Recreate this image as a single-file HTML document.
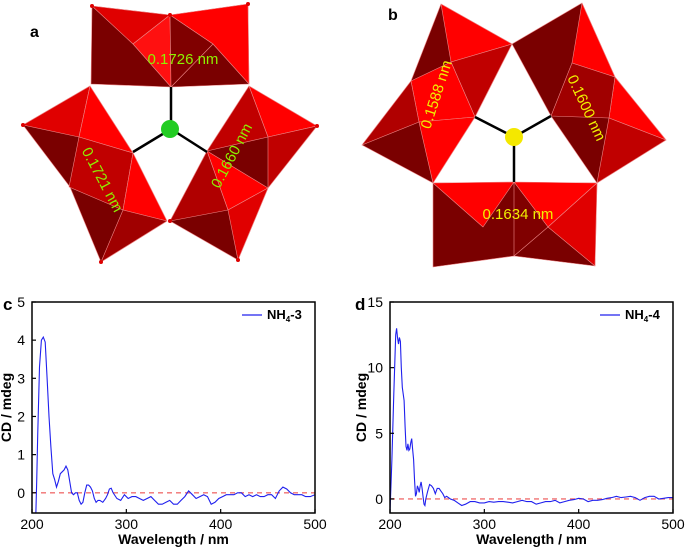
<!DOCTYPE html>
<html><head><meta charset="utf-8">
<style>
body{margin:0;background:#fff;}
svg{display:block;font-family:"Liberation Sans",Arial,sans-serif;}
</style></head>
<body>
<svg id="root" width="685" height="549" viewBox="0 0 685 549">
<g id="structA" stroke="#e88" stroke-width="0.6" stroke-linejoin="round">
  <polygon points="92,6 170,15 248,4 249,84 171,87 91,84" fill="#7a0000"/>
  <polygon points="92,6 170,15 133,44" fill="#e00000"/>
  <polygon points="170,15 248,4 249,84 213,44" fill="#ff0000"/>
  <polygon points="133,44 170,15 171,87" fill="#ff1010"/>
  <polygon points="170,15 213,44 171,87" fill="#800000"/>
  <polygon points="23,125 90,86 133,153 167,221 101,262 70,187" fill="#7a0000"/>
  <polygon points="23,125 90,86 79,137" fill="#e00000"/>
  <polygon points="90,86 133,153 79,137" fill="#ff0000"/>
  <polygon points="79,137 133,153 123,210 69,187" fill="#c00000"/>
  <polygon points="133,153 167,221 123,210" fill="#ff0000"/>
  <polygon points="123,210 167,221 101,262" fill="#a00000"/>
  <polygon points="249,86 317,126 268,188 238,260 170,221 207,151" fill="#7a0000"/>
  <polygon points="249,86 317,126 268,137" fill="#ff0000"/>
  <polygon points="249,86 268,137 207,151" fill="#c00000"/>
  <polygon points="268,137 317,126 268,188" fill="#c00000"/>
  <polygon points="207,151 268,188 228,210" fill="#ff0000"/>
  <polygon points="228,210 268,188 238,260" fill="#e00000"/>
  <polygon points="170,221 207,151 228,210" fill="#b00000"/>
</g>
<g stroke="#000" stroke-width="2.5">
  <line x1="171" y1="129" x2="171" y2="87"/><line x1="171" y1="129" x2="133" y2="152"/><line x1="171" y1="129" x2="207" y2="152"/>
</g>
<circle cx="170" cy="129" r="9" fill="#22cc22"/>
<g fill="#d00">
  <circle cx="92" cy="6" r="2"/><circle cx="248" cy="4" r="2"/><circle cx="170" cy="15" r="2"/><circle cx="23" cy="125" r="2"/><circle cx="317" cy="126" r="2"/><circle cx="101" cy="262" r="2"/><circle cx="238" cy="260" r="2"/><circle cx="170" cy="221" r="2"/>
</g>
<text x="30" y="37" font-size="16" font-weight="bold">a</text>
<g font-size="15" fill="#8ef000">
  <text x="183" y="64" text-anchor="middle">0.1726 nm</text>
  <text transform="translate(98,182) rotate(62)" text-anchor="middle">0.1721 nm</text>
  <text transform="translate(236,158) rotate(-62)" text-anchor="middle">0.1660 nm</text>
</g>

<g stroke="#e88" stroke-width="0.6" stroke-linejoin="round">
  <polygon points="441,4 512,44 475,117 433,183 362,145 411,81" fill="#7a0000"/>
  <polygon points="441,4 512,44 451,62" fill="#ff0000"/>
  <polygon points="451,62 512,44 475,117" fill="#c00000"/>
  <polygon points="411,81 451,62 475,117 419,122" fill="#ff0000"/>
  <polygon points="362,145 411,81 419,122" fill="#b00000"/>
  <polygon points="419,122 475,117 433,183" fill="#ff0000"/>
  <polygon points="582,3 512,44 551,116 597,183 666,140 615,77" fill="#7a0000"/>
  <polygon points="582,3 615,77 572,63" fill="#ff0000"/>
  <polygon points="615,77 666,140 609,118" fill="#ff0000"/>
  <polygon points="572,63 615,77 609,118 551,116" fill="#a00000"/>
  <polygon points="609,118 666,140 597,183" fill="#c00000"/>
  <polygon points="433,183 597,183 595,266 514,256 433,267" fill="#7a0000"/>
  <polygon points="433,183 514,182 483,227" fill="#ff0000"/>
  <polygon points="514,182 597,183 548,227" fill="#ff0000"/>
  <polygon points="514,182 548,227 514,256" fill="#800000"/>
  <polygon points="597,183 595,266 548,227" fill="#e00000"/>
</g>
<g stroke="#000" stroke-width="2.5">
  <line x1="514" y1="137" x2="475" y2="117"/><line x1="514" y1="137" x2="551" y2="116"/><line x1="514" y1="137" x2="514" y2="182"/>
</g>
<circle cx="514" cy="137" r="9" fill="#f4e800"/>
<text x="388" y="20" font-size="16" font-weight="bold">b</text>
<g font-size="15" fill="#f0f000">
  <text transform="translate(441,96) rotate(-72)" text-anchor="middle">0.1588 nm</text>
  <text transform="translate(582,110) rotate(65)" text-anchor="middle">0.1600 nm</text>
  <text x="518" y="219" text-anchor="middle">0.1634 nm</text>
</g>
<g id="charts"></g>
</svg>
<script>
// Chart c data
const cWave = [200,202,204,205,206,208,210,212,214,216,218,220,222,224,226,228,230,232,234,236,238,240,242,244,246,248,250,252,254,256,258,260,262,264,266,268,270,272,275,278,280,282,284,286,290,294,298,302,306,310,314,318,322,326,330,334,338,342,346,350,354,358,362,366,370,374,378,382,386,390,394,398,402,406,410,414,418,422,426,430,434,438,442,446,450,454,458,462,466,470,474,478,482,486,490,495,500];
const cValues = [-2,-1.5,-0.6,0.3,1.5,3.3,4.0,4.08,3.95,3.0,2.0,1.2,0.5,0.35,0.15,0.3,0.5,0.55,0.6,0.7,0.6,0.3,0.0,-0.05,0.0,0.0,-0.2,-0.3,-0.25,0.0,0.2,0.2,0.15,0.05,-0.15,-0.25,-0.2,-0.2,-0.25,-0.15,-0.05,0.1,0.12,0.0,-0.15,-0.2,-0.05,-0.15,-0.1,-0.1,-0.15,-0.2,-0.15,-0.1,-0.2,-0.3,-0.3,-0.25,-0.2,-0.3,-0.3,-0.2,-0.1,0.05,-0.05,-0.15,-0.1,-0.05,-0.1,-0.3,-0.25,-0.15,-0.1,-0.05,-0.05,-0.05,0.0,0.0,-0.1,-0.05,-0.1,-0.05,-0.1,-0.1,-0.05,-0.05,-0.15,0.05,0.15,0.1,0.0,-0.05,-0.05,-0.05,-0.1,-0.1,-0.05];
const cYTicks = [0,1,2,3,4,5];
// Chart d data
const dWave = [200,202,204,206,207,208,209,210,211,212,213,214,215,216,217,218,219,220,221,222,223,224,225,226,227,228,229,230,231,232,233,234,235,236,237,238,240,242,244,246,248,250,252,254,256,258,260,264,268,272,276,280,285,290,295,300,305,310,315,320,325,330,335,340,345,350,355,360,365,370,375,380,385,390,395,400,405,410,415,420,425,430,435,440,445,450,455,460,465,470,475,480,485,490,495,500];
const dValues = [-1,3,8,12.5,13.0,12.3,11.8,12.3,12.0,10,8.5,8,7.5,5.5,4.0,3.7,4.2,3.7,3.8,4.3,4.6,3.8,3.0,1.5,0.2,0.4,1.0,0.8,0.5,1.0,1.3,0.8,0.2,-0.4,-0.5,0,0.6,1.1,1.0,0.8,0.4,0.8,0.8,0.6,0.4,0.1,0.2,0,-0.1,-0.3,-0.5,-0.4,-0.2,-0.2,-0.3,-0.3,-0.2,-0.25,-0.2,-0.2,-0.25,-0.3,-0.2,-0.1,-0.2,-0.2,-0.4,-0.3,-0.2,-0.2,-0.1,-0.3,-0.2,-0.1,-0.05,0.05,0,-0.2,-0.1,-0.1,-0.05,0.05,0.1,0.2,0.1,0.15,0.2,0.1,-0.1,0.1,0.2,0.2,0.0,0.05,0.1,0.1];
const dYTicks = [0,5,10,15];
const xTicks = [200,300,400,500];

const NS = 'http://www.w3.org/2000/svg';
const root = document.getElementById('charts');
function mk(tag, attrs, parent){const e=document.createElementNS(NS,tag);for(const k in attrs)e.setAttribute(k,attrs[k]);(parent||root).appendChild(e);return e;}

function drawChart(id, L, R, T, B, ymin, ymax, waves, vals, yTicks, legendText, panelLetter, letterX, yTitleX){
  const g = mk('g',{});
  
  
  const xs = w => L + (w-200)/(500-200)*(R-L);
  const ys = v => B - (v-ymin)/(ymax-ymin)*(B-T);
  const clip = mk('clipPath',{id:'clip'+id},g);
  mk('rect',{x:L,y:T,width:R-L,height:B-T},clip);
  const zero = mk('line',{x1:L,x2:R,y1:ys(0),y2:ys(0),stroke:'#f07070','stroke-width':1.4,'stroke-dasharray':'5,4'},g);
  
  
  let d='';
  waves.forEach((w,i)=>{d+=(i?'L':'M')+xs(w).toFixed(1)+','+ys(vals[i]).toFixed(1);});
  const p = mk('path',{d:d,fill:'none',stroke:'#2020ee','stroke-width':1.1,'clip-path':'url(#clip'+id+')'},g);
  
  
  const frame = mk('rect',{x:L,y:T,width:R-L,height:B-T,fill:'none',stroke:'#000','stroke-width':1.5},g);
  
  
  xTicks.forEach(t=>{
    mk('line',{x1:xs(t),x2:xs(t),y1:B,y2:B-4,stroke:'#000','stroke-width':1.2},g);
    const tx = mk('text',{x:xs(t),y:B+16,'font-size':14,'text-anchor':'middle'},g);
    tx.textContent = t;
    
    
  });
  yTicks.forEach(t=>{
    mk('line',{x1:L,x2:L+4,y1:ys(t),y2:ys(t),stroke:'#000','stroke-width':1.2},g);
    const tx = mk('text',{x:L-7,y:ys(t)+5,'font-size':14,'text-anchor':'end'},g);
    tx.textContent = t;
    
    
  });
  const xt = mk('text',{x:(L+R)/2,y:B+31,'font-size':14,'font-weight':'bold','text-anchor':'middle'},g);
  xt.textContent = 'Wavelength / nm';
  
  
  const yt = mk('text',{transform:'translate('+yTitleX+','+((T+B)/2)+') rotate(-90)','font-size':14,'font-weight':'bold','text-anchor':'middle'},g);
  yt.textContent = 'CD / mdeg';
  
  
  const lg = mk('g',{},g);
  
  
  mk('line',{x1:R-73,x2:R-53,y1:T+13,y2:T+13,stroke:'#2020ee','stroke-width':1.2},lg);
  const lt = mk('text',{x:R-48,y:T+17,'font-size':13,'font-weight':'bold'},lg);
  lt.innerHTML = legendText;
  const pl = mk('text',{x:letterX,y:T+8,'font-size':17,'font-weight':'bold'},g);
  pl.textContent = panelLetter;
  
  
}
drawChart('c',32,315,302,513,-0.53,5,cWave,cValues,cYTicks,'NH<tspan font-size="8" dy="3">4</tspan><tspan dy="-3">-3</tspan>','c',3,11);
drawChart('d',390,673,302,513,-1.07,15,dWave,dValues,dYTicks,'NH<tspan font-size="8" dy="3">4</tspan><tspan dy="-3">-4</tspan>','d',355,366);
</script>
</body></html>
